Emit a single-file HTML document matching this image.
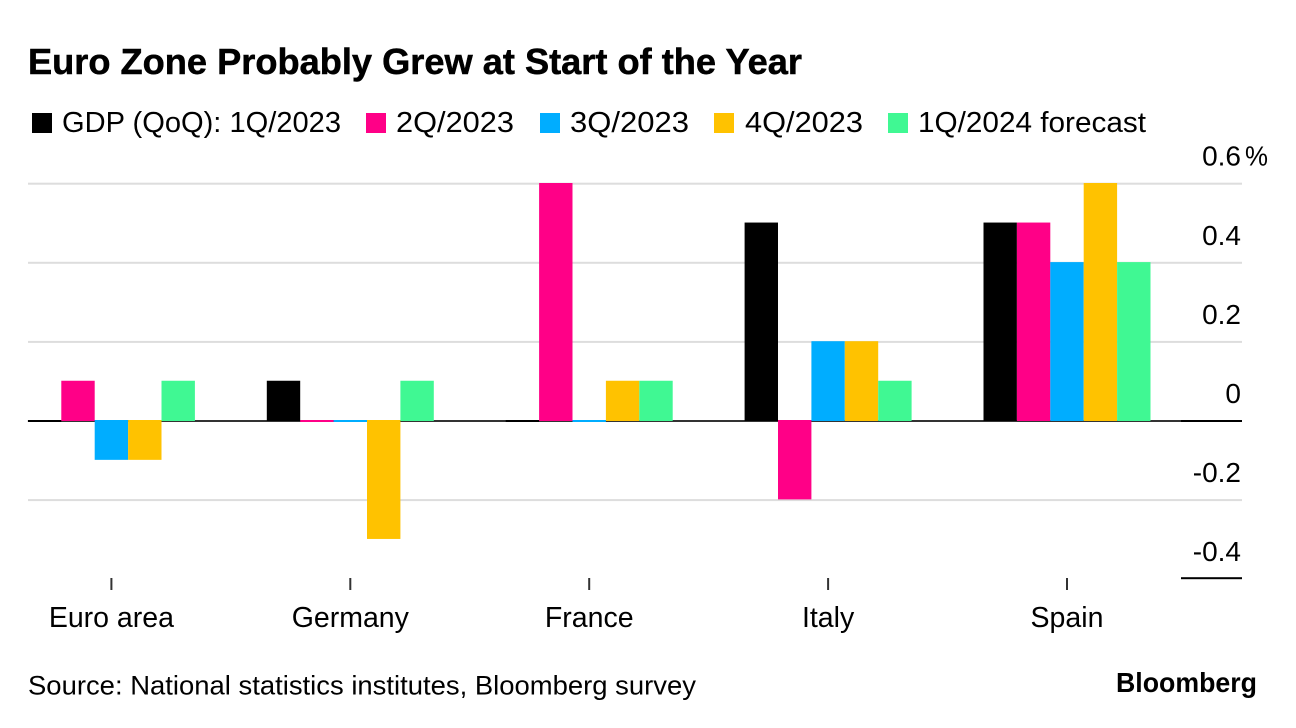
<!DOCTYPE html>
<html lang="en">
<head>
<meta charset="utf-8">
<title>Euro Zone Probably Grew at Start of the Year</title>
<style>
  html, body { margin: 0; padding: 0; background: #fff; }
  svg { display: block; }
  text { font-family: "Liberation Sans", sans-serif; fill: #000; }
</style>
</head>
<body>
<svg id="chart" xmlns="http://www.w3.org/2000/svg" width="1296" height="728" viewBox="0 0 1296 728">
  <rect x="0" y="0" width="1296" height="728" fill="#fff"/>
  <text x="28" y="74" font-size="36" font-weight="700" stroke="#000" stroke-width="0.5" textLength="774" lengthAdjust="spacingAndGlyphs">Euro Zone Probably Grew at Start of the Year</text>

  <g>
    <rect x="32" y="113" width="20" height="20" fill="#000000"/>
    <text x="62" y="132" font-size="29" textLength="279" lengthAdjust="spacingAndGlyphs">GDP (QoQ): 1Q/2023</text>
    <rect x="366" y="113" width="20" height="20" fill="#ff0087"/>
    <text x="396" y="132" font-size="29" textLength="118" lengthAdjust="spacingAndGlyphs">2Q/2023</text>
    <rect x="540" y="113" width="20" height="20" fill="#00adff"/>
    <text x="570" y="132" font-size="29" textLength="119" lengthAdjust="spacingAndGlyphs">3Q/2023</text>
    <rect x="714" y="113" width="20" height="20" fill="#ffc200"/>
    <text x="745" y="132" font-size="29" textLength="118" lengthAdjust="spacingAndGlyphs">4Q/2023</text>
    <rect x="888" y="113" width="20" height="20" fill="#40f893"/>
    <text x="918" y="132" font-size="29" textLength="228" lengthAdjust="spacingAndGlyphs">1Q/2024 forecast</text>
  </g>

  <g id="grid"></g>
  <g id="bars"></g>
  <g id="yaxis"></g>
  <g id="xaxis"></g>

  <text x="28" y="694.5" font-size="27" textLength="668" lengthAdjust="spacingAndGlyphs">Source: National statistics institutes, Bloomberg survey</text>
  <text x="1116" y="692" font-size="28" font-weight="700" textLength="141" lengthAdjust="spacingAndGlyphs">Bloomberg</text>
</svg>

<script>
const categories = ["Euro area", "Germany", "France", "Italy", "Spain"];
const seriesNames = ["1Q-2023", "2Q-2023", "3Q-2023", "4Q-2023", "1Q-2024-forecast"];
const seriesColors = ["#000000", "#ff0087", "#00adff", "#ffc200", "#40f893"];
const q1_2023 = [0, 0.1, 0, 0.5, 0.5];
const q2_2023 = [0.1, 0, 0.6, -0.2, 0.5];
const q3_2023 = [-0.1, 0, 0, 0.2, 0.4];
const q4_2023 = [-0.1, -0.3, 0.1, 0.2, 0.6];
const q1_2024 = [0.1, 0.1, 0.1, 0.1, 0.4];
const yTicks = [0.6, 0.4, 0.2, 0, -0.2, -0.4];
const yTickLabels = ["0.6", "0.4", "0.2", "0", "-0.2", "-0.4"];

const allSeries = [q1_2023, q2_2023, q3_2023, q4_2023, q1_2024];
const SVG_NS = "http://www.w3.org/2000/svg";

function yScale(v) { return 421 - 395.5 * v; }
function xCenter(i) { return 111.4 + 238.9 * i; }
const barWidth = 33.4;

function make(tag, attrs, parent) {
  const el = document.createElementNS(SVG_NS, tag);
  for (const k in attrs) el.setAttribute(k, attrs[k]);
  parent.appendChild(el);
  return el;
}

const gridG = document.getElementById("grid");
const barsG = document.getElementById("bars");
const yG = document.getElementById("yaxis");
const xG = document.getElementById("xaxis");

yTicks.forEach(function (t, i) {
  const y = yScale(t);
  if (t !== 0 && t !== yTicks[yTicks.length - 1]) {
    const line = make("rect", { x: 28, y: y - 1, width: 1214, height: 2, fill: "#dddddd" }, gridG);
    
    
  }
  const label = make("text", { x: 1241, y: y - 18, "font-size": 28, "text-anchor": "end" }, yG);
  
  
  label.textContent = yTickLabels[i];
});

const unit = make("text", { x: 1245, y: yScale(yTicks[0]) - 18, "font-size": 28, textLength: 23, lengthAdjust: "spacingAndGlyphs" }, yG);


unit.textContent = "%";

const zeroLine = make("rect", { x: 28, y: yScale(0) - 1, width: 1153, height: 2, fill: "#333333" }, gridG);



const zeroEnd = make("rect", { x: 1181, y: yScale(0) - 1, width: 61, height: 2, fill: "#000000" }, gridG);



const bottomLine = make("rect", { x: 1181, y: yScale(yTicks[yTicks.length - 1]) - 2, width: 61, height: 2, fill: "#000000" }, gridG);



categories.forEach(function (cat, c) {
  allSeries.forEach(function (series, s) {
    const v = series[c];
    const x = xCenter(c) + (s - 2.5) * barWidth;
    const y0 = yScale(0);
    let top, bottom;
    if (v > 0) { top = yScale(v) - 0.7; bottom = y0; }
    else if (v < 0) { top = y0 - 1; bottom = yScale(v) - 0.7; }
    else { top = y0 - 1; bottom = y0 + 1; }
    const bar = make("rect", { x: x, y: top, width: barWidth, height: bottom - top, fill: seriesColors[s] }, barsG);
    
    
    bar.setAttribute('data-series', seriesNames[s]);
    bar.setAttribute('data-category', cat);
  });

  const tick = make("rect", { x: xCenter(c) - 1, y: 578, width: 2, height: 12, fill: "#333333" }, xG);
  
  

  const label = make("text", { x: xCenter(c), y: 627, "font-size": 28.5, "text-anchor": "middle" }, xG);
  
  
  label.textContent = cat;
});
</script>
</body>
</html>
